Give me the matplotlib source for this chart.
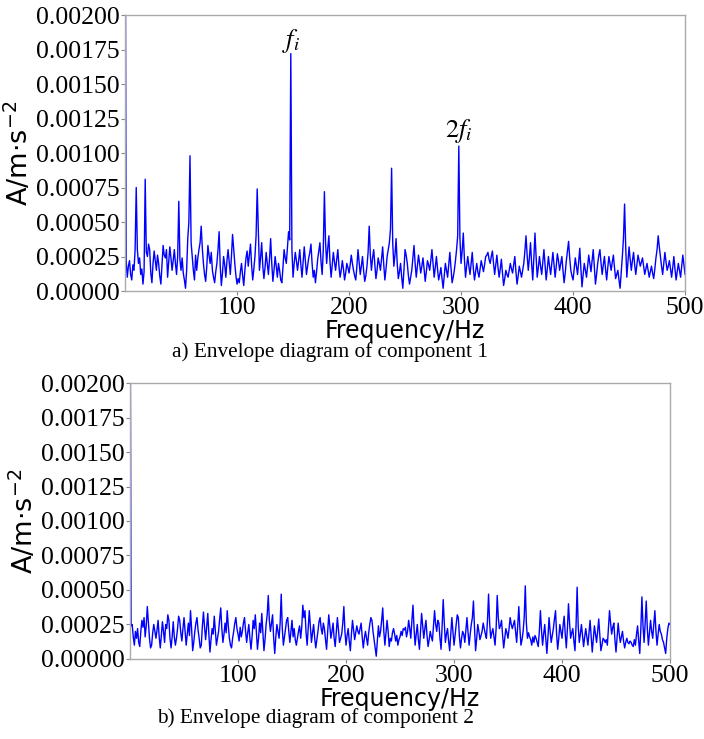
import numpy as np
import matplotlib
matplotlib.use("Agg")
import matplotlib.pyplot as plt

# Frequency axis (Hz), 1 Hz spacing
freq = np.arange(0, 501, 1)

# Component 1 envelope amplitude (units of 1e-4 m/s^2), 20 Hz per row
amp1_e4 = [
    35, 2.2, 1.0, 1.8, 2.2, 1.2, 0.8, 1.9, 1.5, 3.0, 7.5, 3.0, 2.0, 2.4, 1.2, 1.6, 0.5, 1.4, 8.1, 2.8,
    2.5, 3.4, 3.0, 1.3, 0.6, 2.0, 2.9, 2.2, 1.5, 2.6, 2.0, 1.1, 0.5, 1.9, 3.3, 2.6, 2.4, 3.0, 1.0, 2.1,
    3.2, 2.4, 1.5, 2.2, 3.0, 2.0, 1.2, 2.5, 6.5, 2.3, 1.5, 2.4, 1.3, 0.8, 0.2, 1.5, 3.8, 5.0, 9.8, 3.5,
    2.5, 1.5, 0.8, 2.6, 1.5, 2.4, 3.0, 3.5, 4.7, 3.1, 2.0, 1.2, 0.7, 1.8, 3.3, 2.6, 2.0, 2.8, 1.5, 1.0,
    0.6, 1.4, 2.0, 3.0, 4.3, 1.8, 0.4, 1.3, 2.5, 1.9, 1.0, 2.2, 3.0, 2.1, 1.2, 2.5, 4.1, 3.0, 2.0, 1.1,
    0.5, 0.9, 0.6, 1.4, 2.0, 1.1, 0.4, 1.5, 2.4, 2.9, 1.8, 2.6, 3.4, 1.9, 0.8, 1.6, 2.5, 4.0, 7.4, 4.5,
    1.5, 2.4, 3.5, 1.8, 0.9, 1.7, 2.8, 2.0, 1.2, 2.3, 3.8, 2.0, 0.7, 1.5, 2.5, 1.8, 1.0, 2.0, 1.5, 0.8,
    0.6, 1.7, 3.0, 2.4, 2.0, 3.2, 4.3, 3.7, 17.2, 3.0, 1.0, 2.0, 2.8, 2.2, 1.5, 2.2, 3.0, 1.9, 1.0, 2.1,
    3.2, 2.2, 1.2, 1.8, 2.4, 2.8, 3.4, 2.0, 1.0, 1.5, 0.6, 1.4, 2.3, 2.9, 3.5, 2.1, 1.2, 3.0, 7.2, 3.6,
    2.0, 3.1, 4.0, 2.1, 1.0, 1.9, 2.8, 2.1, 1.5, 2.3, 3.0, 1.8, 1.0, 1.5, 2.2, 1.6, 0.8, 1.3, 2.0, 1.7,
    1.3, 1.9, 2.6, 2.0, 1.5, 1.1, 0.8, 1.8, 3.0, 2.1, 1.2, 1.8, 2.5, 1.5, 0.7, 1.1, 1.8, 2.8, 4.7, 2.6,
    1.5, 2.4, 3.0, 1.9, 0.9, 1.5, 2.4, 2.0, 1.5, 2.3, 3.2, 1.9, 0.8, 1.6, 2.5, 3.0, 3.5, 4.5, 8.9, 3.5,
    1.8, 2.6, 3.8, 2.0, 0.9, 1.4, 2.0, 1.0, 0.2, 1.5, 3.0, 2.6, 2.0, 1.1, 0.5, 1.0, 1.5, 2.4, 3.3, 2.0,
    1.0, 1.8, 2.6, 2.0, 1.3, 1.8, 2.4, 1.6, 0.7, 1.4, 2.2, 1.9, 1.5, 2.2, 3.0, 2.0, 1.0, 1.7, 2.5, 1.6,
    0.8, 1.2, 1.7, 0.9, 0.2, 1.1, 2.0, 1.5, 1.0, 1.9, 2.8, 1.7, 0.6, 1.0, 1.5, 2.2, 3.0, 4.0, 10.5, 3.8,
    2.0, 2.9, 4.2, 2.3, 1.0, 1.8, 2.5, 1.8, 1.2, 2.0, 2.8, 1.6, 0.8, 1.4, 2.0, 1.4, 1.0, 1.6, 2.2, 1.8,
    1.4, 1.9, 2.5, 2.6, 2.8, 2.3, 2.0, 2.5, 2.9, 2.0, 1.2, 1.9, 2.6, 1.7, 1.0, 1.6, 2.3, 1.3, 0.4, 0.9,
    1.5, 1.2, 1.0, 1.5, 2.0, 1.6, 1.3, 1.9, 2.5, 1.4, 0.5, 1.1, 1.8, 1.4, 1.0, 1.5, 2.0, 2.9, 4.0, 2.6,
    1.5, 2.4, 3.5, 2.0, 0.8, 2.4, 4.2, 2.5, 1.0, 1.7, 2.5, 1.8, 1.2, 2.1, 3.0, 1.9, 0.8, 1.6, 2.5, 1.8,
    1.2, 2.0, 2.8, 1.9, 1.0, 1.8, 2.7, 2.2, 1.5, 2.0, 2.5, 1.5, 0.6, 1.3, 2.2, 2.9, 3.6, 2.4, 1.5, 1.1,
    0.8, 1.6, 2.4, 1.8, 1.2, 2.1, 3.1, 1.6, 0.3, 1.2, 2.0, 1.5, 1.0, 1.8, 2.6, 2.0, 1.4, 2.2, 3.0, 1.7,
    0.5, 1.2, 2.0, 2.6, 3.0, 2.0, 1.2, 1.9, 2.5, 1.6, 0.8, 1.7, 2.5, 2.0, 1.5, 2.1, 2.6, 1.7, 0.9, 1.2,
    1.5, 0.8, 0.2, 1.3, 2.5, 3.8, 6.3, 3.2, 1.0, 2.1, 3.2, 2.3, 1.5, 2.2, 2.8, 1.9, 1.2, 1.9, 2.6, 2.2,
    1.8, 2.1, 2.4, 1.8, 1.2, 1.6, 2.0, 1.5, 1.0, 1.4, 1.8, 1.3, 0.9, 1.6, 2.4, 3.0, 4.0, 3.2, 2.5, 1.8,
    1.2, 2.0, 2.8, 2.1, 1.5, 1.8, 2.2, 1.6, 1.0, 1.7, 2.5, 1.6, 0.8, 1.4, 2.0, 1.5, 1.0, 1.8, 2.6, 1.9,
    1.2,
]

# Component 2 envelope amplitude (units of 1e-4 m/s^2), 20 Hz per row
amp2_e4 = [
    30, 2.4, 2.5, 1.6, 1.0, 2.0, 1.5, 2.2, 1.2, 0.9, 2.0, 2.8, 2.3, 3.0, 1.6, 2.4, 3.8, 2.6, 1.5, 0.8,
    1.0, 1.9, 2.5, 2.0, 1.5, 2.1, 2.8, 1.6, 0.8, 1.7, 2.7, 2.0, 1.2, 2.5, 2.2, 3.2, 2.8, 1.5, 0.8, 1.6,
    2.7, 1.6, 1.0, 1.5, 2.2, 3.1, 2.8, 1.9, 1.3, 2.2, 3.0, 2.0, 1.0, 1.8, 2.6, 1.7, 3.5, 2.2, 0.6, 1.2,
    2.0, 2.6, 3.0, 2.1, 1.5, 0.8, 1.0, 2.4, 3.4, 2.3, 1.4, 2.4, 3.3, 1.8, 0.5, 1.4, 2.2, 1.8, 3.1, 2.0,
    1.0, 1.5, 2.0, 2.9, 3.7, 2.2, 1.2, 1.8, 2.6, 1.9, 3.5, 2.4, 1.5, 1.0, 0.8, 1.5, 2.0, 2.6, 3.0, 2.2,
    1.8, 1.3, 2.3, 1.6, 2.0, 2.6, 3.0, 2.0, 1.2, 1.9, 2.5, 1.5, 0.7, 1.6, 2.8, 2.2, 3.2, 1.9, 0.7, 1.5,
    2.6, 1.9, 3.3, 2.0, 0.6, 1.4, 2.5, 3.2, 4.6, 2.8, 2.0, 2.6, 3.2, 1.5, 0.4, 1.6, 2.5, 2.0, 1.5, 2.6,
    4.7, 2.2, 1.0, 1.6, 2.2, 2.8, 3.0, 2.0, 1.2, 2.0, 2.8, 1.6, 2.2, 1.4, 1.0, 1.5, 2.0, 2.4, 1.5, 2.3,
    3.9, 3.0, 3.5, 1.9, 1.0, 2.2, 3.5, 2.4, 1.2, 1.9, 2.5, 1.5, 0.8, 1.4, 2.0, 2.7, 3.0, 2.2, 1.8, 2.6,
    2.2, 1.4, 0.7, 1.9, 3.2, 2.4, 1.5, 2.0, 2.6, 1.5, 0.9, 2.0, 3.0, 2.1, 1.2, 1.5, 1.8, 2.6, 3.8, 2.0,
    1.0, 1.7, 2.2, 1.3, 0.6, 1.8, 2.8, 2.1, 1.4, 1.9, 2.4, 2.0, 1.8, 2.2, 2.6, 1.6, 0.8, 1.5, 2.0, 1.5,
    1.0, 1.9, 2.5, 3.0, 2.8, 2.0, 1.4, 0.8, 0.2, 1.3, 2.4, 1.6, 2.0, 2.8, 3.7, 2.0, 1.0, 1.9, 2.8, 2.0,
    0.9, 1.5, 1.3, 1.9, 2.2, 1.8, 1.3, 1.7, 1.0, 1.4, 1.6, 2.0, 1.7, 2.2, 2.1, 2.3, 1.6, 2.0, 2.8, 2.2,
    1.5, 2.8, 3.9, 2.2, 1.0, 1.8, 2.5, 1.4, 0.7, 2.0, 3.3, 2.4, 1.5, 2.2, 2.8, 1.7, 0.9, 1.4, 2.0, 1.6,
    1.3, 2.4, 3.5, 2.5, 2.0, 2.8, 2.6, 1.5, 0.7, 2.4, 4.3, 2.6, 1.2, 1.8, 2.2, 1.3, 0.6, 1.8, 3.0, 2.0,
    1.0, 1.7, 2.5, 3.2, 3.0, 1.6, 0.8, 1.5, 2.0, 1.8, 1.2, 2.1, 3.0, 1.9, 1.0, 1.8, 2.5, 3.0, 4.2, 2.2,
    0.6, 1.5, 2.5, 2.0, 1.4, 1.7, 2.0, 2.6, 2.2, 1.8, 1.5, 2.8, 4.7, 2.6, 1.5, 1.9, 2.2, 1.6, 1.0, 2.2,
    4.6, 3.0, 2.2, 2.4, 2.8, 1.7, 0.8, 1.5, 2.2, 1.9, 1.5, 2.2, 3.0, 2.5, 2.2, 2.5, 2.8, 2.0, 1.2, 2.4,
    3.8, 2.2, 1.0, 1.4, 2.0, 3.0, 5.3, 2.6, 1.5, 1.9, 1.6, 1.4, 1.0, 1.6, 1.2, 1.7, 1.5, 1.2, 0.9, 2.0,
    3.5, 2.1, 1.0, 1.8, 2.5, 1.4, 0.4, 1.6, 3.0, 2.0, 1.2, 1.7, 2.2, 2.9, 3.5, 1.8, 0.7, 1.5, 2.5, 2.0,
    1.5, 2.4, 3.1, 1.8, 0.8, 2.2, 4.0, 2.6, 1.5, 1.9, 2.2, 1.3, 0.6, 2.4, 5.2, 2.4, 1.2, 1.8, 2.5, 1.7,
    0.9, 1.6, 2.2, 1.6, 1.0, 1.9, 2.8, 1.6, 0.5, 1.5, 2.4, 1.8, 1.2, 2.0, 2.9, 1.7, 0.6, 1.0, 1.5, 1.4,
    1.2, 1.4, 1.0, 2.2, 3.5, 2.6, 1.8, 2.3, 2.6, 1.4, 0.5, 1.5, 2.6, 1.8, 1.2, 1.6, 2.0, 1.3, 0.8, 1.2,
    1.5, 1.2, 1.1, 1.3, 1.2, 1.0, 0.9, 1.4, 1.0, 1.8, 2.4, 1.3, 0.4, 2.2, 4.5, 2.4, 1.2, 2.6, 4.2, 2.2,
    1.0, 1.9, 2.8, 2.0, 1.5, 2.5, 3.5, 2.0, 1.0, 1.8, 2.5, 2.0, 1.8, 1.4, 1.2, 0.8, 0.4, 1.5, 2.2, 2.6,
    2.5,
]

amp1 = np.array(amp1_e4) * 1e-4
amp2 = np.array(amp2_e4) * 1e-4

xticks = [100, 200, 300, 400, 500]
yticks = [0.0, 0.00025, 0.0005, 0.00075, 0.001, 0.00125, 0.0015, 0.00175, 0.002]
ytick_labels = ["0.00000", "0.00025", "0.00050", "0.00075", "0.00100",
                "0.00125", "0.00150", "0.00175", "0.00200"]

plt.rcParams['mathtext.fontset'] = 'dejavusans'

fig = plt.figure(figsize=(7.04, 7.39), dpi=100)
ax1 = fig.add_axes([0.1776, 0.6062, 0.7955, 0.3735])
ax2 = fig.add_axes([0.1847, 0.1083, 0.7670, 0.3734])

serif = 'Liberation Serif'
for ax, y in ((ax1, amp1), (ax2, amp2)):
    ax.plot(freq, y, color='#0000ff', lw=1.0)
    ax.set_xlim(0, 500)
    ax.set_ylim(0, 0.002)
    ax.set_xticks(xticks)
    ax.set_xticklabels([str(t) for t in xticks], fontfamily=serif, fontsize=18.5)
    ax.set_yticks(yticks)
    ax.set_yticklabels(ytick_labels, fontfamily=serif, fontsize=18.5)
    ax.tick_params(axis='both', length=3, width=0.8, color='#888888', pad=1)
    for s in ax.spines.values():
        s.set_color('#aaaaaa')
        s.set_linewidth(1.0)
    ax.set_xlabel('Frequency/Hz', fontfamily='DejaVu Sans', fontsize=17, labelpad=0)
    ax.set_ylabel('A/m·s$^{-2}$', fontfamily='DejaVu Sans', fontsize=19.5, labelpad=1)

ax1.text(148, 0.00171, r'$f_i$', fontsize=19, ha='center', va='bottom',
         math_fontfamily='stix')
ax1.text(298, 0.00106, r'$2f_i$', fontsize=19, ha='center', va='bottom',
         math_fontfamily='stix')

fig.text(330 / 704, 1 - 352 / 739, 'a) Envelope diagram of component 1',
         fontfamily=serif, fontsize=15.3, ha='center', va='center')
fig.text(315 / 704, 1 - 718 / 739, 'b) Envelope diagram of component 2',
         fontfamily=serif, fontsize=15.3, ha='center', va='center')

fig.savefig('out.png', dpi=100)
